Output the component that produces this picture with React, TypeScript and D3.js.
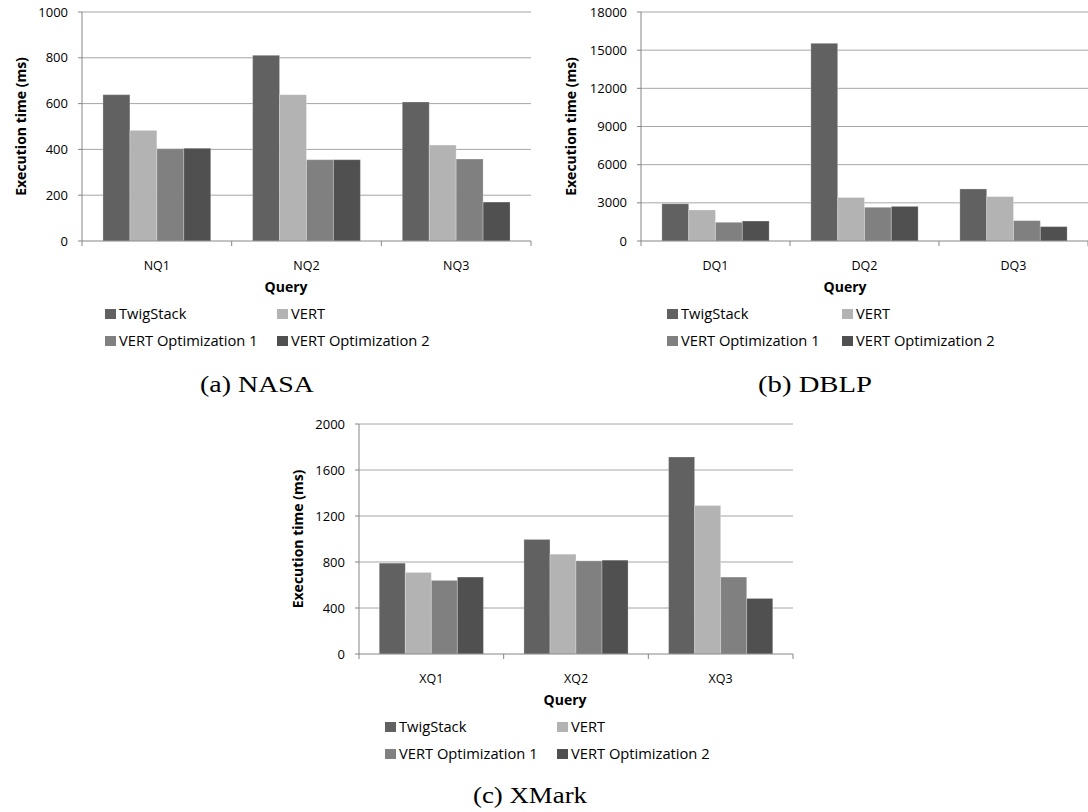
import React, { useEffect, useRef } from "react"
import * as d3 from "d3"

// series shared by the three panels
const seriesNames = ["TwigStack", "VERT", "VERT Optimization 1", "VERT Optimization 2"]
const seriesColors = ["#616161", "#b3b3b3", "#808080", "#505050"]

// (a) NASA
const nasaQueries = ["NQ1", "NQ2", "NQ3"]
const nasaValues = [
  [639, 483, 403, 405],
  [811, 639, 355, 355],
  [607, 419, 358, 170],
]
const nasaTicks = [0, 200, 400, 600, 800, 1000]

// (b) DBLP
const dblpQueries = ["DQ1", "DQ2", "DQ3"]
const dblpValues = [
  [2930, 2440, 1470, 1570],
  [15540, 3420, 2650, 2720],
  [4090, 3490, 1600, 1130],
]
const dblpTicks = [0, 3000, 6000, 9000, 12000, 15000, 18000]

// (c) XMark
const xmarkQueries = ["XQ1", "XQ2", "XQ3"]
const xmarkValues = [
  [790, 709, 640, 669],
  [996, 868, 810, 816],
  [1713, 1291, 669, 483],
]
const xmarkTicks = [0, 400, 800, 1200, 1600, 2000]

const SANS = "'Open Sans', 'Noto Sans', sans-serif"
const SERIF = "'Liberation Serif', 'DejaVu Serif', serif"

const panels = [
  {
    queries: nasaQueries, values: nasaValues, ticks: nasaTicks,
    left: 82, right: 531, top: 12, bottom: 241,
    titleX: 21, legendX: 105, legendX2: 277, queryX: 286,
    caption: "(a) NASA", captionX: 257, captionY: 392,
  },
  {
    queries: dblpQueries, values: dblpValues, ticks: dblpTicks,
    left: 641, right: 1088, top: 12, bottom: 241,
    titleX: 571, legendX: 667, legendX2: 842, queryX: 845,
    caption: "(b) DBLP", captionX: 815, captionY: 392,
  },
  {
    queries: xmarkQueries, values: xmarkValues, ticks: xmarkTicks,
    left: 359, right: 793, top: 424, bottom: 654,
    titleX: 298, legendX: 385, legendX2: 557, queryX: 565,
    caption: "(c) XMark", captionX: 530, captionY: 803,
  },
]

function drawPanel(svg: any, p: any) {
  const g = svg.append("g")

  const x = d3.scaleBand()
    .domain(p.queries)
    .range([p.left, p.right])
    .paddingInner(0.28)
    .paddingOuter(0.14)
  const xs = d3.scaleBand()
    .domain(seriesNames)
    .range([0, x.bandwidth()])
  const y = d3.scaleLinear()
    .domain([0, p.ticks[p.ticks.length - 1]])
    .range([p.bottom, p.top])

  // gridlines
  g.selectAll(".grid")
    .data(p.ticks.slice(1))
    .enter().append("line")
    .attr("x1", p.left).attr("x2", p.right)
    .attr("y1", (d: number) => y(d)).attr("y2", (d: number) => y(d))
    .attr("stroke", "#a6a6a6").attr("stroke-width", 1)

  // y axis
  g.append("line")
    .attr("x1", p.left).attr("x2", p.left)
    .attr("y1", p.top).attr("y2", p.bottom)
    .attr("stroke", "#868686")
  g.selectAll(".ytick")
    .data(p.ticks)
    .enter().append("line")
    .attr("x1", p.left - 4).attr("x2", p.left)
    .attr("y1", (d: number) => y(d)).attr("y2", (d: number) => y(d))
    .attr("stroke", "#868686")
  g.selectAll(".ylab")
    .data(p.ticks)
    .enter().append("text")
    .attr("x", p.left - 14)
    .attr("y", (d: number) => y(d))
    .attr("dy", "0.35em")
    .attr("text-anchor", "end")
    .attr("font-family", SANS).attr("font-size", 13)
    .attr("fill", "#000")
    .text((d: number) => String(d))

  g.append("text")
    .attr("transform", `translate(${p.titleX},${(p.top + p.bottom) / 2}) rotate(-90)`)
    .attr("dy", "0.35em")
    .attr("text-anchor", "middle")
    .attr("font-family", SANS).attr("font-size", 14).attr("font-weight", "bold")
    .text("Execution time (ms)")

  // bars
  const groups = g.selectAll(".grp")
    .data(p.queries)
    .enter().append("g")
    .attr("transform", (d: string) => `translate(${x(d)},0)`)
  groups.selectAll("rect")
    .data((d: string, i: number) => p.values[i].map((v: number, j: number) => ({ v, j })))
    .enter().append("rect")
    .attr("x", (d: any) => xs(seriesNames[d.j]))
    .attr("y", (d: any) => y(d.v))
    .attr("width", xs.bandwidth())
    .attr("height", (d: any) => p.bottom - y(d.v))
    .attr("fill", (d: any) => seriesColors[d.j])
    .attr("stroke", "#ffffff").attr("stroke-opacity", 0.25).attr("stroke-width", 1)

  // x axis
  g.append("line")
    .attr("x1", p.left).attr("x2", p.right)
    .attr("y1", p.bottom).attr("y2", p.bottom)
    .attr("stroke", "#868686")
  const step = x.step()
  const edges = d3.range(p.queries.length + 1).map(i => p.left + i * step)
  g.selectAll(".xtick")
    .data(edges)
    .enter().append("line")
    .attr("x1", (d: number) => d).attr("x2", (d: number) => d)
    .attr("y1", p.bottom).attr("y2", p.bottom + 5)
    .attr("stroke", "#868686")
  g.selectAll(".xlab")
    .data(p.queries)
    .enter().append("text")
    .attr("x", (d: string) => (x(d) as number) + x.bandwidth() / 2)
    .attr("y", p.bottom + 29)
    .attr("text-anchor", "middle")
    .attr("font-family", SANS).attr("font-size", 12.5)
    .text((d: string) => d)

  g.append("text")
    .attr("x", p.queryX).attr("y", p.bottom + 51)
    .attr("text-anchor", "middle")
    .attr("font-family", SANS).attr("font-size", 14).attr("font-weight", "bold")
    .text("Query")

  // legend, two columns
  const lg = g.selectAll(".leg")
    .data(seriesNames)
    .enter().append("g")
    .attr("transform", (d: string, i: number) =>
      `translate(${i % 2 === 0 ? p.legendX : p.legendX2},${p.bottom + 78 + Math.floor(i / 2) * 27})`)
  lg.append("rect")
    .attr("x", 0).attr("y", -10)
    .attr("width", 11).attr("height", 10)
    .attr("fill", (d: string, i: number) => seriesColors[i])
  lg.append("text")
    .attr("x", 14).attr("y", 0)
    .attr("font-family", SANS).attr("font-size", 14.7)
    .text((d: string) => d)

  g.append("text")
    .attr("x", p.captionX).attr("y", p.captionY)
    .attr("text-anchor", "middle")
    .attr("font-family", SERIF).attr("font-size", 24)
    .attr("textLength", 114).attr("lengthAdjust", "spacingAndGlyphs")
    .text(p.caption)
}

export default function App() {
  const ref = useRef<SVGSVGElement>(null)

  useEffect(() => {
    const svg = d3.select(ref.current)
    svg.selectAll("*").remove()
    panels.forEach(p => drawPanel(svg, p))
  }, [])

  return (
    <svg
      ref={ref}
      width={1088}
      height={812}
      style={{ position: "absolute", left: 0, top: 0, background: "#fff" }}
    />
  )
}
